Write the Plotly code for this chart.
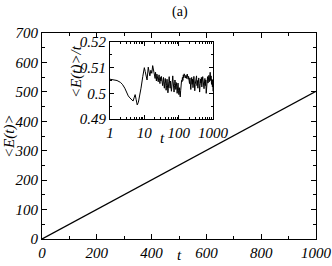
import plotly.graph_objects as go

# Main curve
t_main = [0, 50, 100, 150, 200, 250, 300, 350, 400, 450, 500, 550, 600, 650, 700, 750, 800, 850, 900, 950, 1000]
E_main = [0, 25, 50, 75.5, 101, 126, 150, 175, 201, 226, 252, 276, 302, 327, 352, 377, 401, 426, 451, 476, 502]

# Inset: <E(t)>/t vs t (log)
t_in = [1, 1.3, 1.6, 2.0, 2.3, 2.7, 3.0, 3.4, 3.8, 4.3, 4.7, 5.1, 5.4, 5.8, 6.2, 6.7, 7.2, 8.0, 9.0, 10,
        10.6, 11.3, 12, 13, 13.8, 14.5, 15.5, 16.5, 17.5, 18.5, 19.5,
        20, 20.6, 21.2, 21.9, 22.5, 23.2, 23.9, 24.6, 25.4, 26.1, 26.9, 27.7, 28.5, 29.4, 30.3, 31.2, 32.1,
        33.1, 34.1, 35.1, 36.1, 37.2, 38.3, 39.5, 40.7, 41.9, 43.1, 44.4, 45.8, 47.1, 48.6, 50, 51.5, 53,
        54.6, 56.3, 58, 59.7, 61.5, 63.3, 65.2, 67.2, 69.2, 71.3, 73.4, 75.6, 77.9, 80.2, 82.6, 85.1, 87.7,
        90.3, 93, 95.8, 98.7, 101.6, 104.7, 107.8, 111, 114.4, 117.8, 121.3, 125, 128.7, 132.6, 136.6,
        140.7, 144.9, 149.2, 153.7, 158.3, 163.1, 168, 173, 178.2, 183.5, 189, 194.7, 200.5, 206.6, 212.8,
        219.1, 225.7, 232.5, 239.5, 246.6, 254, 261.7, 269.5, 277.6, 285.9, 294.5, 303.3, 312.4, 321.8,
        331.5, 341.4, 351.6, 362.2, 373, 384.2, 395.8, 407.6, 419.9, 432.5, 445.4, 458.8, 472.6, 486.7,
        501.3, 516.4, 531.9, 547.8, 564.3, 581.2, 598.6, 616.6, 635.1, 654.2, 673.8, 694, 714.8, 736.3,
        758.4, 781.1, 804.5, 828.7, 853.5, 879.1, 905.5, 932.7, 960.7, 989.5, 1000]
r_in = [0.5055, 0.5053, 0.5050, 0.5043, 0.5035, 0.5020, 0.5005, 0.4990, 0.4982, 0.4975, 0.4970, 0.4985, 0.4995, 0.4975, 0.4955, 0.4965, 0.4985, 0.5020, 0.5065, 0.5100,
        0.5085, 0.5060, 0.5052, 0.5102, 0.5080, 0.5068, 0.5090, 0.5078, 0.5108, 0.5088, 0.5070,
        0.5070, 0.5058, 0.5082, 0.5062, 0.5048, 0.5075, 0.5056, 0.5068, 0.5045, 0.5060,
        0.5072, 0.5050, 0.5038, 0.5062, 0.5048, 0.5066, 0.5040, 0.5055, 0.5030, 0.5050,
        0.5062, 0.5035, 0.5020, 0.5045, 0.5058,
        0.5040, 0.5012, 0.5030, 0.5055, 0.5028, 0.5002, 0.5018, 0.5045, 0.5065, 0.5040,
        0.5020, 0.5048, 0.5030, 0.5008, 0.5025, 0.5050, 0.5068, 0.5045, 0.5022, 0.5005,
        0.5030, 0.5052, 0.5038, 0.5015, 0.5042, 0.5028, 0.5000, 0.5018, 0.5040, 0.5012,
        0.4995, 0.5022, 0.5008, 0.4986, 0.5010, 0.5035, 0.5050,
        0.5045, 0.5062, 0.5050, 0.5072, 0.5060, 0.5076, 0.5066, 0.5072, 0.5060, 0.5070,
        0.5058, 0.5068, 0.5075, 0.5062, 0.5055, 0.5066, 0.5050,
        0.5038, 0.5060, 0.5030, 0.5015, 0.5048, 0.5062, 0.5035, 0.5055, 0.5022, 0.5045,
        0.5066, 0.5040, 0.5010, 0.5035, 0.5058, 0.5045, 0.5068, 0.5030, 0.5050, 0.5020,
        0.5042, 0.5060, 0.5038, 0.5005, 0.5030, 0.5055, 0.5040, 0.5062, 0.5025, 0.5048,
        0.5065, 0.5035, 0.5050, 0.5018, 0.5040, 0.5058, 0.5030, 0.5052, 0.5000, 0.5035,
        0.5050, 0.5065, 0.5040, 0.5058, 0.5070, 0.5045, 0.5060, 0.5082, 0.5050, 0.5068,
        0.5035, 0.5055, 0.5025, 0.5048, 0.5008]
assert len(t_in) == len(r_in), (len(t_in), len(r_in))

FONT = "Times New Roman"
W, H = 332, 266
L, R, T, B = 42, 16, 33, 27
pw, ph = W - L - R, H - T - B

def px_x(p):
    return (p - L) / pw

def px_y(p):
    return (H - B - p) / ph

fig = go.Figure()
fig.add_trace(go.Scatter(x=t_main, y=E_main, mode="lines",
                         line=dict(color="black", width=1.3), xaxis="x", yaxis="y", showlegend=False))
fig.add_trace(go.Scatter(x=t_in, y=r_in, mode="lines",
                         line=dict(color="black", width=1), xaxis="x2", yaxis="y2", showlegend=False))

tick_font = dict(family=FONT, size=15, color="black", style="italic")
ax_common = dict(showline=True, linecolor="black", linewidth=1, mirror="ticks", ticks="inside",
                 tickcolor="black", showgrid=False, zeroline=False, tickfont=tick_font,
                 automargin=False)

ix0, ix1 = px_x(110), px_x(213)
iy0, iy1 = px_y(119), px_y(42)

fig.update_layout(
    width=W, height=H,
    font=dict(family=FONT, size=15, color="black", style="italic"),
    margin=dict(l=L, r=R, t=T, b=B, pad=0, autoexpand=False),
    paper_bgcolor="white", plot_bgcolor="white",
    xaxis=dict(range=[0, 1000], dtick=200, ticklen=5, tickwidth=1,
               minor=dict(ticks="inside", dtick=100, ticklen=3, tickcolor="black"), **ax_common),
    yaxis=dict(range=[0, 700], dtick=100, ticklen=5, tickwidth=1,
               minor=dict(ticks="inside", dtick=50, ticklen=3, tickcolor="black"), **ax_common),
    xaxis2=dict(type="log", range=[0, 3], domain=[ix0, ix1], anchor="y2",
                tickvals=[1, 10, 100, 1000], ticktext=["1", "10", "100", "1000"], ticklen=4,
                minor=dict(ticks="inside", ticklen=2, tickcolor="black",
                           tickvals=[2, 3, 4, 5, 6, 7, 8, 9, 20, 30, 40, 50, 60, 70, 80, 90,
                                     200, 300, 400, 500, 600, 700, 800, 900]),
                **ax_common),
    yaxis2=dict(range=[0.49, 0.52], domain=[iy0, iy1], anchor="x2",
                tickvals=[0.49, 0.50, 0.51, 0.52], ticktext=["0.49", "0.5", "0.51", "0.52"], ticklen=4,
                minor=dict(ticks="inside", ticklen=2, tickcolor="black", dtick=0.005),
                **ax_common),
)

fig.add_shape(type="rect", xref="paper", yref="paper", x0=ix0, x1=ix1, y0=iy0, y1=iy1,
              fillcolor="white", line=dict(width=0), layer="below")

def ann(text, x, y, size=15, angle=0, italic=True):
    fig.add_annotation(text=text, xref="paper", yref="paper", x=px_x(x), y=px_y(y),
                       xanchor="center", yanchor="middle", showarrow=False, textangle=angle,
                       font=dict(family=FONT, size=size, color="black",
                                 style="italic" if italic else "normal"))

ann("(a)", 180, 12, size=14, italic=False)
ann("t", 179, 255)
ann("t", 162, 138)
ann("&lt;E(t)&gt;", 9, 136, size=15, angle=-90)
ann("&lt;E(t)&gt;/t", 76, 72, size=15, angle=-90)

fig.write_html("out.html", config={"displayModeBar": False},
               post_script="document.body.style.margin='0';")
